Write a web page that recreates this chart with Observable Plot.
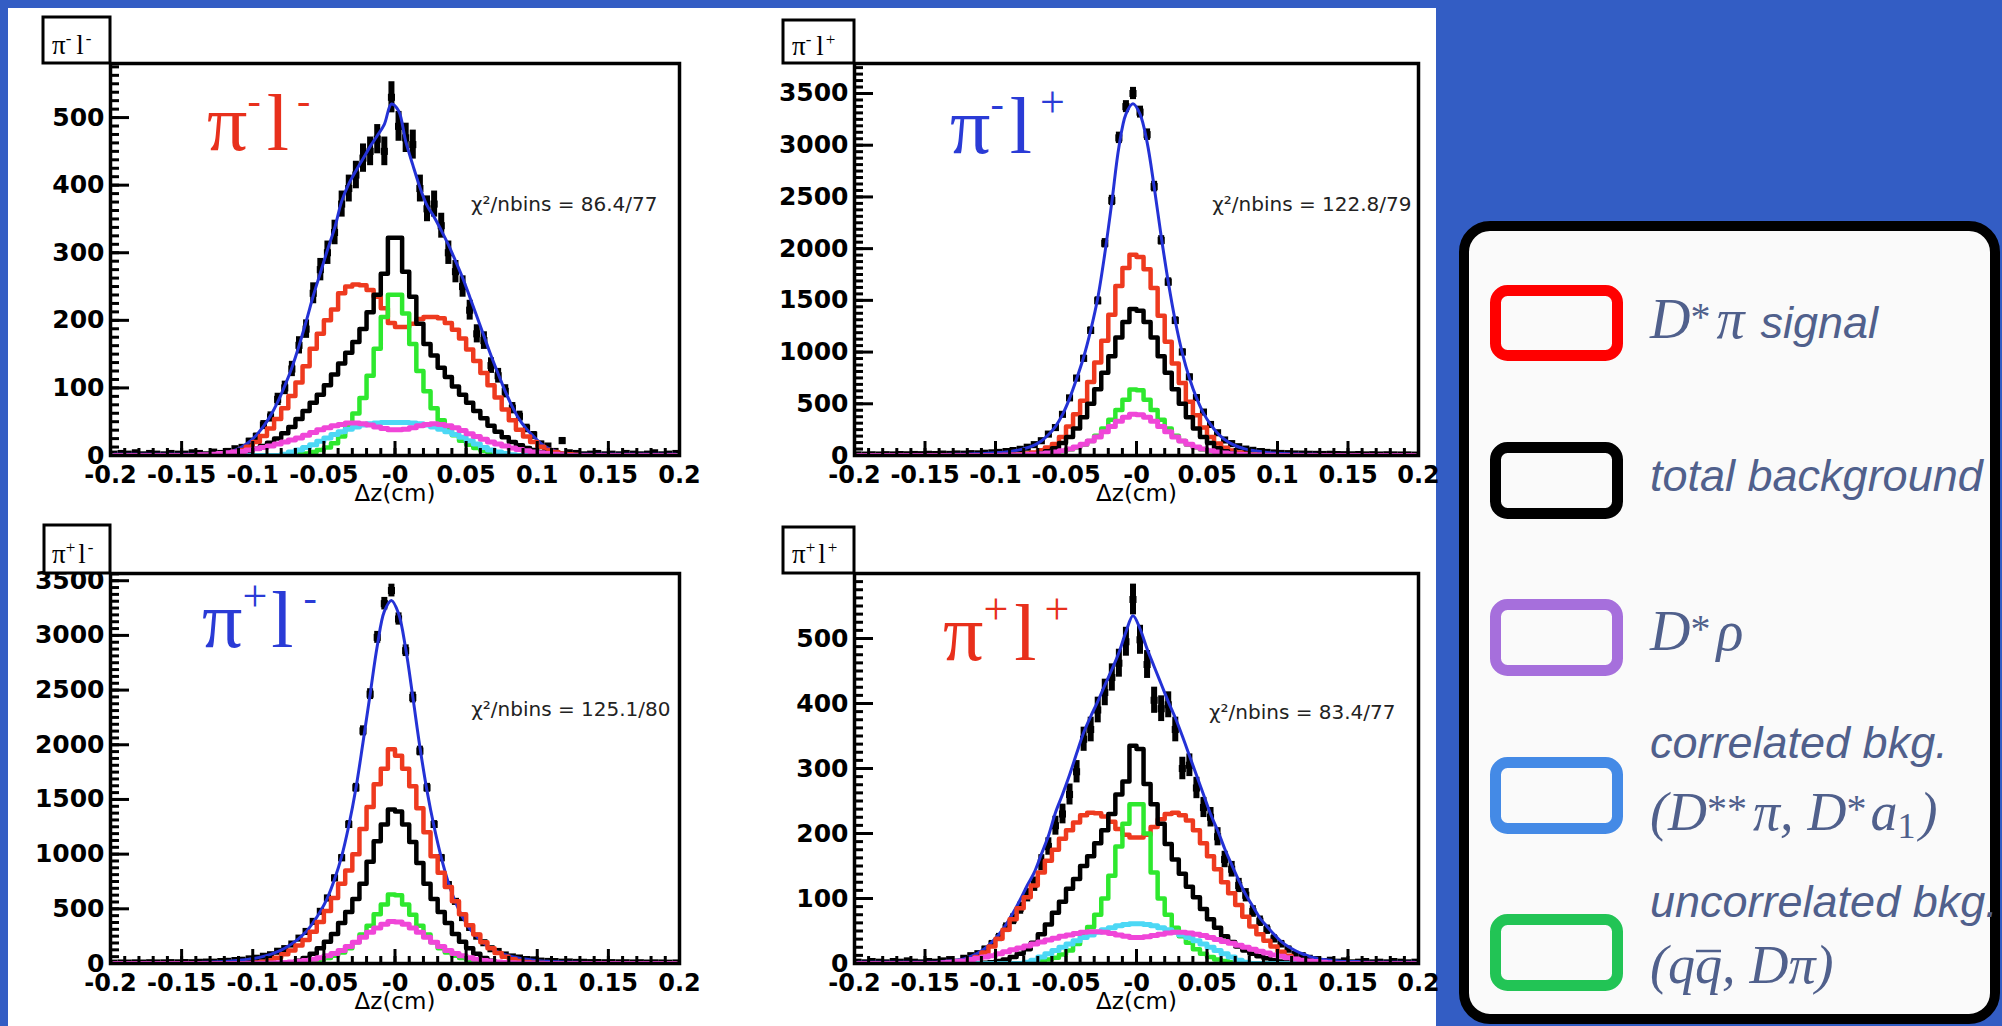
<!DOCTYPE html>
<html><head><meta charset="utf-8">
<script src="https://cdn.jsdelivr.net/npm/d3@7"></script>
<script src="https://cdn.jsdelivr.net/npm/@observablehq/plot@0.6"></script>
<style>
html,body{margin:0;padding:0;background:#335dc4;}
#page{position:relative;width:2002px;height:1026px;background:#335dc4;overflow:hidden;}
#white{position:absolute;left:8px;top:8px;width:1428px;height:1018px;background:#fff;}
.panel{position:absolute;}
.panel svg{display:block;max-width:none;}
#overlay{position:absolute;left:0;top:0;}
</style>
</head><body>
<div id="page">
<div id="white"></div>
<div id="tl" class="panel" style="left:0px;top:0px"></div>
<div id="tr" class="panel" style="left:720px;top:0px"></div>
<div id="bl" class="panel" style="left:0px;top:510px"></div>
<div id="br" class="panel" style="left:720px;top:510px"></div>
<svg id="overlay" width="2002" height="1026">
  <g font-family="Liberation Serif" font-size="27" fill="#000">
    <rect x="43" y="17" width="67" height="46" fill="#fff" stroke="#000" stroke-width="3"/>
    <text x="52" y="54">π<tspan font-size="17" dy="-10">-</tspan><tspan dy="10" dx="5">l</tspan><tspan font-size="17" dy="-10" dx="2">-</tspan></text>
    <rect x="783" y="20" width="71" height="43" fill="#fff" stroke="#000" stroke-width="3"/>
    <text x="792" y="55">π<tspan font-size="17" dy="-10">-</tspan><tspan dy="10" dx="5">l</tspan><tspan font-size="17" dy="-10" dx="2">+</tspan></text>
    <rect x="44" y="525" width="66" height="48" fill="#fff" stroke="#000" stroke-width="3"/>
    <text x="52" y="563">π<tspan font-size="17" dy="-10">+</tspan><tspan dy="10" dx="3">l</tspan><tspan font-size="17" dy="-10" dx="2">-</tspan></text>
    <rect x="783" y="527" width="71" height="46" fill="#fff" stroke="#000" stroke-width="3"/>
    <text x="792" y="563">π<tspan font-size="17" dy="-10">+</tspan><tspan dy="10" dx="3">l</tspan><tspan font-size="17" dy="-10" dx="2">+</tspan></text>
  </g>
  <g font-family="Liberation Serif" font-size="80">
    <text x="207" y="150" fill="#e8301c">π<tspan font-size="40" dy="-36">-</tspan><tspan dy="36" dx="6">l</tspan><tspan font-size="40" dy="-36" dx="8">-</tspan></text>
    <text x="950" y="153" fill="#2a3bd6">π<tspan font-size="40" dy="-36">-</tspan><tspan dy="36" dx="6">l</tspan><tspan font-size="44" dy="-36" dx="8">+</tspan></text>
    <text x="202" y="647" fill="#2a3bd6">π<tspan font-size="44" dy="-36">+</tspan><tspan dy="36" dx="4">l</tspan><tspan font-size="40" dy="-36" dx="10">-</tspan></text>
    <text x="943" y="660" fill="#e8301c">π<tspan font-size="44" dy="-36">+</tspan><tspan dy="36" dx="6">l</tspan><tspan font-size="44" dy="-36" dx="8">+</tspan></text>
  </g>
  <rect x="1464" y="226" width="531" height="793" rx="26" fill="#fafafa" stroke="#000" stroke-width="10"/>
  <g fill="#fafafa" stroke-width="11">
    <rect x="1495.5" y="290.5" width="122" height="65" rx="12" stroke="#ff0000"/>
    <rect x="1495.5" y="447.5" width="122" height="66" rx="12" stroke="#000000"/>
    <rect x="1495.5" y="604.5" width="122" height="66" rx="12" stroke="#a66fdc"/>
    <rect x="1495.5" y="762.5" width="122" height="66" rx="12" stroke="#448ae6"/>
    <rect x="1495.5" y="919.5" width="122" height="66" rx="12" stroke="#22c455"/>
  </g>
  <g fill="#50608c" font-family="Liberation Sans" font-style="italic" font-size="45">
    <text x="1650" y="338"><tspan font-family="Liberation Serif" font-size="56">D</tspan><tspan font-family="Liberation Serif" font-style="normal" font-size="40" dy="-8">*</tspan><tspan font-family="Liberation Serif" font-size="56" dy="8" dx="6">π</tspan><tspan dx="16">signal</tspan></text>
    <text x="1650" y="491">total background</text>
    <text x="1650" y="650"><tspan font-family="Liberation Serif" font-size="56">D</tspan><tspan font-family="Liberation Serif" font-style="normal" font-size="40" dy="-8">*</tspan><tspan font-family="Liberation Serif" font-size="56" dy="8" dx="6">ρ</tspan></text>
    <text x="1650" y="758">correlated bkg.</text>
    <text x="1650" y="830" font-family="Liberation Serif" font-size="54">(D<tspan font-style="normal" font-size="40" dy="-8">**</tspan><tspan dy="8" dx="6">π,</tspan><tspan dx="14">D</tspan><tspan font-style="normal" font-size="40" dy="-8">*</tspan><tspan dy="8" dx="4">a</tspan><tspan font-style="normal" font-size="36" dy="8">1</tspan><tspan dy="-8" dx="4">)</tspan></text>
    <text x="1650" y="917">uncorrelated bkg.</text>
    <text x="1650" y="983" font-family="Liberation Serif" font-size="54">(qq,<tspan dx="14">Dπ)</tspan></text>
  </g>
  <line x1="1696" x2="1721" y1="951" y2="951" stroke="#50608c" stroke-width="2.5"/>
</svg>
</div>
<script>
// ---- bins (centers, cm) ----
const binCenters = [
-0.1975,-0.1925,-0.1875,-0.1825,-0.1775,-0.1725,-0.1675,-0.1625,-0.1575,-0.1525,
-0.1475,-0.1425,-0.1375,-0.1325,-0.1275,-0.1225,-0.1175,-0.1125,-0.1075,-0.1025,
-0.0975,-0.0925,-0.0875,-0.0825,-0.0775,-0.0725,-0.0675,-0.0625,-0.0575,-0.0525,
-0.0475,-0.0425,-0.0375,-0.0325,-0.0275,-0.0225,-0.0175,-0.0125,-0.0075,-0.0025,
0.0025,0.0075,0.0125,0.0175,0.0225,0.0275,0.0325,0.0375,0.0425,0.0475,
0.0525,0.0575,0.0625,0.0675,0.0725,0.0775,0.0825,0.0875,0.0925,0.0975,
0.1025,0.1075,0.1125,0.1175,0.1225,0.1275,0.1325,0.1375,0.1425,0.1475,
0.1525,0.1575,0.1625,0.1675,0.1725,0.1775,0.1825,0.1875,0.1925,0.1975];

const xTicks = [-0.2,-0.15,-0.1,-0.05,0,0.05,0.1,0.15,0.2];
const xTickLabels = ["-0.2","-0.15","-0.1","-0.05","-0","0.05","0.1","0.15","0.2"];
const xLabel = "Δz(cm)";

// ---- pi- l- ----
const tlData = [
2,3,2,4,1,3,2,1,3,2,
2,4,3,1,5,3,6,10,12,21,
28,45,57,83,100,128,163,187,240,275,
300,330,372,395,415,440,450,468,450,530,
487,470,460,395,365,372,340,300,272,250,
215,180,170,133,118,95,70,58,40,30,
17,14,6,22,4,3,1,2,3,1,
2,1,3,2,1,2,4,1,2,3];
const tlFit = [
2,2,2,2,2,2,2,2,2,2,
2,2,2,2,2,3,5,8,13,20,
30,43,59,79,103,130,162,198,236,270,
304,336,376,402,421,439,457,473,490,520,
510,465,430,397,370,353,333,312,288,263,
235,206,177,148,121,95,72,53,39,28,
18,11,7,4,3,2,2,2,2,2,
2,2,2,2,2,2,2,2,2,2];
const tlSig = [
0,0,0,0,0,0,0,0,0,0,
0,0,0,0,1,2,3,5,8,13,
20,29,40,54,70,88,108,132,158,180,
200,216,240,250,253,252,245,235,218,196,
190,190,195,202,205,205,203,196,186,173,
157,140,122,104,86,68,52,38,28,20,
13,8,5,3,2,1,0,0,0,0,
0,0,0,0,0,0,0,0,0,0];
const tlBkg = [
0,0,0,0,0,0,0,0,0,0,
0,0,0,0,0,1,2,3,5,7,
10,14,19,25,33,42,54,66,78,90,
104,120,136,152,168,187,212,238,269,322,
322,272,235,195,165,148,130,116,102,90,
78,66,55,44,35,27,20,15,11,8,
5,3,2,1,0,0,0,0,0,0,
0,0,0,0,0,0,0,0,0,0];
const tlUnc = [
0,0,0,0,0,0,0,0,0,0,
0,0,0,0,0,0,0,0,0,0,
0,0,0,0,0,0,2,3,5,8,
12,18,28,44,62,85,118,158,205,238,
238,210,165,125,95,70,52,40,30,22,
16,11,7,4,2,1,0,0,0,0,
0,0,0,0,0,0,0,0,0,0,
0,0,0,0,0,0,0,0,0,0];
const tlCor = [
0,0,0,0,0,0,0,0,0,0,
0,0,0,0,0,0,0,0,0,0,
0,0,0,0,2,5,8,12,16,21,
26,31,35,39,42,45,47,48,49,49,
49,49,48,47,45,42,39,35,31,27,
22,17,12,8,5,3,1,0,0,0,
0,0,0,0,0,0,0,0,0,0,
0,0,0,0,0,0,0,0,0,0];
const tlRho = [
0,0,0,0,0,0,0,0,0,0,
0,0,1,1,2,3,4,5,6,8,
10,12,14,17,20,23,26,30,34,38,
41,44,46,48,48,47,45,42,40,38,
38,39,41,44,46,47,46,44,41,37,
32,28,24,20,17,14,11,9,7,5,
4,3,2,1,0,0,0,0,0,0,
0,0,0,0,0,0,0,0,0,0];

// ---- pi- l+ ----
const trData = [
6,4,7,5,8,6,9,7,10,8,
12,9,14,11,15,13,18,16,22,26,
30,38,48,60,80,105,143,207,270,398,
557,748,939,1209,1496,2052,2466,3071,3373,3500,
3320,3102,2600,2080,1677,1305,1000,760,560,420,
300,220,150,115,85,62,50,38,30,25,
20,18,15,14,12,11,10,12,9,8,
7,9,6,8,5,7,6,5,6,4];
const trFit = [
5,5,5,6,6,6,6,7,7,8,
8,9,10,11,12,13,15,17,19,23,
28,35,44,57,75,100,140,200,280,395,
550,740,950,1210,1520,1950,2450,2980,3300,3400,
3300,3030,2600,2120,1680,1300,990,750,560,410,
300,215,155,112,82,62,48,38,30,24,
20,17,15,13,12,11,10,9,9,8,
8,7,7,7,6,6,6,6,5,5];
const trSig = [
0,0,0,0,0,0,0,0,0,0,
0,0,0,0,0,0,0,0,1,1,
2,4,7,12,19,30,50,78,110,180,
280,400,530,710,900,1110,1360,1640,1814,1941,
1920,1800,1620,1350,1100,890,700,520,390,270,
180,115,75,48,30,18,10,6,3,2,
1,1,0,0,0,0,0,0,0,0,
0,0,0,0,0,0,0,0,0,0];
const trBkg = [
0,0,0,0,0,0,0,0,0,0,
0,0,0,0,0,0,0,0,0,0,
0,0,1,3,6,12,22,40,70,120,
180,260,370,500,640,800,960,1140,1290,1416,
1400,1290,1140,960,800,640,500,370,260,180,
120,70,40,22,12,6,3,1,0,0,
0,0,0,0,0,0,0,0,0,0,
0,0,0,0,0,0,0,0,0,0];
const trUnc = [
0,0,0,0,0,0,0,0,0,0,
0,0,0,0,0,0,0,0,0,0,
0,1,2,4,6,9,14,21,30,42,
58,78,105,140,190,260,345,440,540,637,
630,540,440,345,260,190,140,105,78,58,
42,30,21,14,9,6,4,2,1,0,
0,0,0,0,0,0,0,0,0,0,
0,0,0,0,0,0,0,0,0,0];
const trRho = [
0,0,0,0,0,0,0,0,0,0,
0,0,0,0,0,0,0,0,0,1,
2,3,4,6,9,13,18,25,34,46,
62,82,108,140,180,230,280,330,370,398,
395,370,330,280,230,180,140,108,82,62,
46,34,25,18,13,9,6,4,3,2,
1,0,0,0,0,0,0,0,0,0,
0,0,0,0,0,0,0,0,0,0];

// ---- pi+ l- ----
const blData = [
3,5,4,6,4,7,5,6,8,6,
9,7,11,13,12,18,20,27,30,42,
48,66,80,112,136,178,232,293,385,477,
599,782,966,1271,1607,2127,2463,2982,3290,3410,
3150,2860,2432,1943,1607,1271,966,721,568,420,
330,250,190,135,110,78,60,50,36,33,
22,19,18,12,14,10,11,8,9,7,
8,6,7,5,7,4,6,5,3,5];
const blFit = [
4,4,5,5,5,6,6,6,7,7,
8,9,10,12,14,17,21,26,32,40,
50,65,84,108,140,180,230,290,375,475,
600,770,980,1260,1600,2020,2460,2900,3220,3320,
3200,2880,2440,1980,1580,1250,970,740,560,425,
320,245,185,140,105,80,62,48,38,30,
24,20,17,14,12,11,10,9,8,8,
7,7,6,6,6,5,5,5,4,4];
const blSig = [
0,0,0,0,0,0,0,0,0,0,
0,0,0,0,0,0,0,1,3,5,
9,16,30,52,85,120,165,215,290,380,
480,600,730,850,1000,1230,1430,1640,1780,1959,
1900,1780,1620,1420,1200,980,830,700,570,450,
350,265,195,140,95,62,40,24,14,8,
4,2,1,0,0,0,0,0,0,0,
0,0,0,0,0,0,0,0,0,0];
const blBkg = [
0,0,0,0,0,0,0,0,0,0,
0,0,0,0,0,0,0,0,0,0,
0,0,0,2,5,12,25,50,90,140,
200,270,370,470,590,730,930,1118,1271,1409,
1390,1271,1110,920,730,590,470,370,270,200,
140,90,50,25,12,5,2,0,0,0,
0,0,0,0,0,0,0,0,0,0,
0,0,0,0,0,0,0,0,0,0];
const blUnc = [
0,0,0,0,0,0,0,0,0,0,
0,0,0,0,0,0,0,0,0,0,
0,0,0,0,2,4,8,14,22,34,
50,72,100,140,195,265,345,450,540,630,
625,540,445,345,265,195,140,100,72,50,
34,22,14,8,4,2,0,0,0,0,
0,0,0,0,0,0,0,0,0,0,
0,0,0,0,0,0,0,0,0,0];
const blRho = [
0,0,0,0,0,0,0,0,0,0,
0,0,0,0,0,0,0,0,0,1,
2,3,5,7,10,14,20,28,38,52,
70,92,120,155,195,240,285,325,360,385,
380,360,325,285,240,195,155,120,92,70,
52,38,28,20,14,10,7,5,3,2,
1,0,0,0,0,0,0,0,0,0,
0,0,0,0,0,0,0,0,0,0];

// ---- pi+ l+ ----
const brData = [
2,1,3,2,1,3,2,4,2,1,
3,2,4,6,2,8,12,15,22,30,
40,55,68,85,105,122,155,180,212,230,
260,295,345,360,390,417,440,462,495,560,
498,460,405,392,398,360,300,305,270,240,
225,195,160,145,120,105,80,65,52,38,
30,22,14,12,8,6,3,5,2,4,
1,2,3,1,2,1,3,2,1,2];
const brFit = [
2,2,2,2,2,2,2,2,2,2,
2,2,3,4,5,7,11,16,23,33,
45,60,78,98,120,140,168,196,232,260,
290,323,355,380,403,428,452,478,510,535,
515,484,457,430,403,378,350,320,290,260,
230,205,177,152,128,106,88,70,57,45,
34,26,20,15,11,8,6,5,4,3,
3,3,2,2,2,2,2,2,2,2];
const brSig = [
0,0,0,0,0,0,0,0,0,0,
0,0,0,0,1,3,6,10,17,26,
38,52,68,85,102,120,140,158,175,192,
205,217,228,232,231,226,218,207,198,194,
194,198,210,222,230,232,228,220,205,185,
165,145,125,108,90,72,57,45,35,26,
18,12,7,4,2,1,0,0,0,0,
0,0,0,0,0,0,0,0,0,0];
const brBkg = [
0,0,0,0,0,0,0,0,0,0,
0,0,0,0,0,0,0,0,1,2,
4,6,10,15,22,32,45,60,78,95,
115,130,150,165,185,205,230,260,280,335,
330,276,245,215,184,160,138,118,102,84,
68,55,42,33,26,20,15,11,8,5,
3,2,1,0,0,0,0,0,0,0,
0,0,0,0,0,0,0,0,0,0];
const brUnc = [
0,0,0,0,0,0,0,0,0,0,
0,0,0,0,0,0,0,0,0,0,
0,0,0,0,1,2,4,6,9,14,
20,30,42,56,75,100,135,180,215,245,
245,200,140,100,75,55,42,32,22,15,
10,6,4,2,1,0,0,0,0,0,
0,0,0,0,0,0,0,0,0,0,
0,0,0,0,0,0,0,0,0,0];
const brCor = [
0,0,0,0,0,0,0,0,0,0,
0,0,0,0,0,0,0,0,0,0,
0,0,0,0,2,5,10,15,20,25,
30,35,40,44,48,52,55,58,60,61,
61,60,58,55,52,48,44,40,35,30,
25,20,15,10,5,2,0,0,0,0,
0,0,0,0,0,0,0,0,0,0,
0,0,0,0,0,0,0,0,0,0];
const brRho = [
0,0,0,0,0,0,0,0,0,0,
0,0,1,2,3,4,6,8,10,12,
15,18,21,24,27,30,33,36,39,42,
44,46,48,49,49,48,46,44,42,40,
40,41,43,45,47,48,48,47,45,43,
40,37,34,31,28,25,22,19,16,13,
11,9,7,5,4,3,2,1,0,0,
0,0,0,0,0,0,0,0,0,0];

const lowYTicks = [0,100,200,300,400,500];
const highYTicks = [0,500,1000,1500,2000,2500,3000,3500];

const panels = [
  {id:"tl", data:tlData, fit:tlFit, sig:tlSig, bkg:tlBkg, unc:tlUnc, cor:tlCor, rho:tlRho, yMax:580, yTicks:lowYTicks, yMinor:12.5, chi:"χ²/nbins = 86.4/77"},
  {id:"tr", data:trData, fit:trFit, sig:trSig, bkg:trBkg, unc:trUnc, cor:null, rho:trRho, yMax:3790, yTicks:highYTicks, yMinor:62.5, chi:"χ²/nbins = 122.8/79"},
  {id:"bl", data:blData, fit:blFit, sig:blSig, bkg:blBkg, unc:blUnc, cor:null, rho:blRho, yMax:3566, yTicks:highYTicks, yMinor:62.5, chi:"χ²/nbins = 125.1/80"},
  {id:"br", data:brData, fit:brFit, sig:brSig, bkg:brBkg, unc:brUnc, cor:brCor, rho:brRho, yMax:600, yTicks:lowYTicks, yMinor:12.5, chi:"χ²/nbins = 83.4/77"}
];

// layout (pixels)
const layout = {
  tl:{width:720, height:510, ml:110, mr:41, mt:63, mb:55, chiDx:-22, chiDy:147},
  tr:{width:730, height:510, ml:134, mr:32, mt:63, mb:55, chiDx:-7,  chiDy:147},
  bl:{width:720, height:516, ml:110, mr:41, mt:63, mb:63, chiDx:-9,  chiDy:142},
  br:{width:730, height:516, ml:134, mr:32, mt:63, mb:63, chiDx:-23, chiDy:145}
};

const colors = {sig:"#ee3a1f", bkg:"#000000", unc:"#2ee82e", cor:"#4cd8f5", rho:"#f046d8", fit:"#2432d6"};
const idx = d3.range(binCenters.length);
const bx = i => binCenters[i];

function panel(p) {
  const L = layout[p.id];
  const fw = L.width - L.ml - L.mr, fh = L.height - L.mt - L.mb;
  const ux = 0.4 / fw, uy = p.yMax / fh;
  const yMinorTicks = d3.range(0, p.yMax, p.yMinor);
  const xMinorTicks = d3.range(-20, 21).map(k => k / 100);
  const hist = (arr, color, w) => Plot.line(idx, {x: bx, y: i => arr[i], curve: "step", stroke: color, strokeWidth: w, clip: true});
  const histMarks = [
    hist(p.sig, colors.sig, 4.5),
    hist(p.bkg, colors.bkg, 4.5),
    hist(p.unc, colors.unc, 4.5)
  ];
  if (p.cor) histMarks.push(hist(p.cor, colors.cor, 5));
  histMarks.push(hist(p.rho, colors.rho, 5));
  return Plot.plot({
    width: L.width, height: L.height,
    marginLeft: L.ml, marginRight: L.mr, marginTop: L.mt, marginBottom: L.mb,
    x: {domain: [-0.2, 0.2]},
    y: {domain: [0, p.yMax]},
    style: {background: "transparent", overflow: "visible"},
    marks: [
      Plot.ruleX(idx, {x: bx, y1: i => Math.max(0, p.data[i] - Math.sqrt(p.data[i])), y2: i => p.data[i] + Math.sqrt(p.data[i]), stroke: "#000", strokeWidth: 6, clip: true}),
      Plot.dot(idx, {x: bx, y: i => p.data[i], symbol: "square", r: 4, fill: "#000", clip: true}),
      Plot.line(idx, {x: bx, y: i => p.fit[i], curve: "catmull-rom", stroke: colors.fit, strokeWidth: 3, clip: true}),
      ...histMarks,
      Plot.ruleY(yMinorTicks, {y: d => d, x1: -0.2, x2: -0.2 + 9 * ux, stroke: "#000", strokeWidth: 3}),
      Plot.ruleY(p.yTicks, {y: d => d, x1: -0.2, x2: -0.2 + 19 * ux, stroke: "#000", strokeWidth: 3}),
      Plot.ruleX(xMinorTicks, {x: d => d, y1: 0, y2: 7 * uy, stroke: "#000", strokeWidth: 3}),
      Plot.ruleX(xTicks, {x: d => d, y1: 0, y2: 14 * uy, stroke: "#000", strokeWidth: 3}),
      Plot.frame({stroke: "#000", strokeWidth: 3.5}),
      Plot.axisY({ticks: p.yTicks, tickFormat: d => String(d), tickSize: 0, tickPadding: 6, fontSize: 25, fontWeight: "bold", fontFamily: "DejaVu Sans", fill: "#000", label: null}),
      Plot.axisX({ticks: xTicks, tickFormat: d => xTickLabels[xTicks.indexOf(d)], tickSize: 0, tickPadding: 10, fontSize: 24, fontWeight: "bold", fontFamily: "DejaVu Sans", fill: "#000", label: null}),
      Plot.text([xLabel], {text: d => d, frameAnchor: "bottom", dy: 45, lineAnchor: "bottom", fontSize: 23, fontFamily: "DejaVu Sans", fill: "#000"}),
      Plot.text([p.chi], {text: d => d, frameAnchor: "top-right", dx: L.chiDx, dy: L.chiDy, textAnchor: "end", lineAnchor: "bottom", fontSize: 20, fontFamily: "DejaVu Sans", fill: "#222"})
    ]
  });
}

for (const p of panels) {
  document.getElementById(p.id).appendChild(panel(p));
}
</script>
</body></html>
